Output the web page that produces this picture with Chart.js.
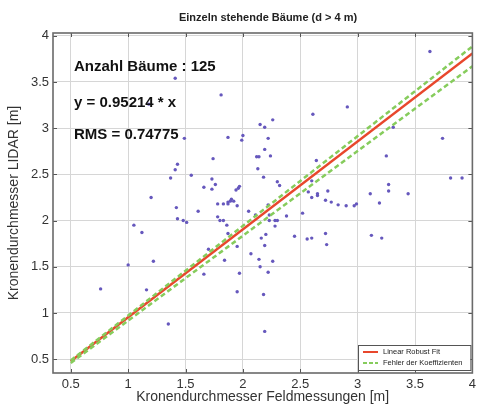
<!DOCTYPE html>
<html>
<head>
<meta charset="utf-8">
<script src="https://cdn.jsdelivr.net/npm/chart.js@4"></script>
<style>
  html, body { margin: 0; padding: 0; background: #fff; }
  #wrap { width: 480px; height: 406px; }
</style>
</head>
<body>
<div id="wrap"><canvas id="treeChart" width="480" height="406"></canvas></div>
<script>
// tick labels
const xTicks = [0.5, 1, 1.5, 2, 2.5, 3, 3.5, 4];
const yTicks = [0.5, 1, 1.5, 2, 2.5, 3, 3.5, 4];

const fieldDiam = [
  1.41, 1.81, 2.15, 2.26, 2.19, 1.87, 2.00, 1.99, 2.22, 1.49,
  2.19, 2.12, 2.14, 2.24, 1.74, 2.13, 1.43, 1.41, 2.18, 1.55,
  1.37, 1.73, 1.76, 1.66, 1.73, 1.96, 1.97, 1.94, 2.30, 2.32,
  1.20, 1.42, 1.90, 1.89, 1.92, 1.87, 1.78, 1.83, 1.87, 1.95,
  1.61, 2.05, 2.11, 2.23, 1.43, 1.48, 1.51, 1.78, 1.80, 1.83,
  1.86, 2.28, 2.28, 1.87, 2.16, 2.20, 2.45, 2.56, 2.60, 2.72,
  2.73, 1.95, 1.70, 2.19, 2.07, 1.84, 2.14, 2.26, 1.22, 2.15,
  1.66, 1.97, 2.22, 1.95, 2.18, 2.64, 2.57, 2.60, 2.65, 2.65,
  2.74, 2.72, 2.77, 2.83, 2.90, 2.52, 3.63, 2.91, 2.61, 3.31,
  3.74, 3.25, 2.60, 3.81, 3.91, 2.97, 2.99, 3.11, 3.27, 3.27,
  3.44, 3.19, 1.05, 1.12, 1.00, 0.76, 1.16, 1.35, 2.19, 2.38,
  3.12, 3.21, 1.18, 2.22, 2.23, 2.30
];
const lidarDiam = [
  3.54, 3.36, 3.04, 3.09, 3.01, 2.90, 2.92, 2.87, 2.89, 2.89,
  2.77, 2.69, 2.69, 2.70, 2.67, 2.56, 2.61, 2.55, 2.47, 2.49,
  2.46, 2.45, 2.39, 2.36, 2.34, 2.35, 2.37, 2.33, 2.42, 2.38,
  2.25, 2.14, 2.23, 2.21, 2.21, 2.20, 2.18, 2.18, 2.18, 2.16,
  2.10, 2.10, 2.06, 2.06, 2.02, 2.00, 1.98, 2.04, 2.00, 2.00,
  1.95, 2.00, 1.94, 1.86, 1.81, 1.85, 1.83, 1.80, 1.81, 1.86,
  1.74, 1.72, 1.69, 1.73, 1.64, 1.57, 1.58, 1.56, 1.56, 1.50,
  1.42, 1.43, 1.44, 1.23, 1.20, 2.65, 2.31, 2.25, 2.27, 2.29,
  2.32, 2.22, 2.20, 2.17, 2.16, 2.08, 3.83, 3.23, 3.15, 3.01,
  2.89, 2.70, 2.43, 2.46, 2.46, 2.16, 2.18, 2.29, 2.39, 2.32,
  2.29, 2.19, 1.95, 1.87, 1.52, 1.26, 1.25, 0.88, 0.80, 2.05,
  1.84, 1.81, 3.26, 2.17, 2.00, 2.00
];

// robust fit line and coefficient error bounds (end points)
const fitX = [0.5, 4];
const fitY = [0.476, 3.809];
const upperY = [0.486, 3.885];
const lowerY = [0.459, 3.670];

const infoLines = ["Anzahl Bäume : 125", "y = 0.95214 * x", "RMS = 0.74775"];
const legendLabels = ["Linear Robust Fit", "Fehler der Koeffizienten"];

const FONT = "'Liberation Sans', Arial, Helvetica, sans-serif";
const RED = "#e8472c";
const GREEN = "#86cc5c";

function toPoints(xs, ys) {
  return xs.map((x, i) => ({ x: x, y: ys[i] }));
}

// frame, inner tick marks, title, text block and legend box (MATLAB look)
const decorPlugin = {
  id: "decor",
  afterDraw(chart) {
    const ctx = chart.ctx;
    const a = chart.chartArea;
    const xs = chart.scales.x, ys = chart.scales.y;
    ctx.save();

    // inner ticks
    ctx.strokeStyle = "#555";
    ctx.lineWidth = 1;
    xTicks.forEach(v => {
      const px = Math.round(xs.getPixelForValue(v)) + 0.5;
      ctx.beginPath();
      ctx.moveTo(px, a.bottom); ctx.lineTo(px, a.bottom - 4);
      ctx.moveTo(px, a.top); ctx.lineTo(px, a.top + 4);
      ctx.stroke();
    });
    yTicks.forEach(v => {
      const py = Math.round(ys.getPixelForValue(v)) + 0.5;
      ctx.beginPath();
      ctx.moveTo(a.left, py); ctx.lineTo(a.left + 4, py);
      ctx.moveTo(a.right, py); ctx.lineTo(a.right - 4, py);
      ctx.stroke();
    });

    // box
    ctx.strokeStyle = "#6a6a6a";
    ctx.lineWidth = 1.6;
    ctx.strokeRect(a.left, a.top, a.right - a.left, a.bottom - a.top);

    // title
    ctx.fillStyle = "#222";
    ctx.font = "bold 11px " + FONT;
    ctx.textAlign = "center";
    ctx.textBaseline = "middle";
    ctx.fillText("Einzeln stehende Bäume (d > 4 m)", 268, 18);

    // info text
    ctx.font = "bold 15px " + FONT;
    ctx.textAlign = "left";
    ctx.fillStyle = "#111";
    const textY = [67, 103, 135];
    infoLines.forEach((t, i) => ctx.fillText(t, 74, textY[i]));

    // legend
    const lx = 358, ly = 345, lw = a.right - 2 - lx, lh = 25;
    ctx.fillStyle = "#fff";
    ctx.fillRect(lx, ly, lw, lh);
    ctx.strokeStyle = "#555";
    ctx.lineWidth = 1;
    ctx.strokeRect(lx + 0.5, ly + 0.5, lw, lh);
    ctx.font = "7.5px " + FONT;
    ctx.fillStyle = "#222";
    const rows = [ly + 7, ly + 18];
    ctx.lineWidth = 2;
    ctx.strokeStyle = RED;
    ctx.beginPath(); ctx.moveTo(363, rows[0]); ctx.lineTo(378, rows[0]); ctx.stroke();
    ctx.strokeStyle = GREEN;
    ctx.setLineDash([4, 2]);
    ctx.beginPath(); ctx.moveTo(363, rows[1]); ctx.lineTo(378, rows[1]); ctx.stroke();
    ctx.setLineDash([]);
    legendLabels.forEach((t, i) => ctx.fillText(t, 383, rows[i]));

    ctx.restore();
  }
};

function renderTreeChart() {
  const ctx = document.getElementById("treeChart").getContext("2d");

  new Chart(ctx, {
    type: "scatter",
    data: {
      datasets: [
        {
          label: "Fehler oben",
          data: toPoints(fitX, upperY),
          showLine: true,
          borderColor: GREEN,
          borderWidth: 2.5,
          borderDash: [5, 3],
          pointRadius: 0
        },
        {
          label: "Fehler unten",
          data: toPoints(fitX, lowerY),
          showLine: true,
          borderColor: GREEN,
          borderWidth: 2.5,
          borderDash: [5, 3],
          pointRadius: 0
        },
        {
          label: "Linear Robust Fit",
          data: toPoints(fitX, fitY),
          showLine: true,
          borderColor: RED,
          borderWidth: 2.5,
          pointRadius: 0
        },
        {
          label: "Bäume",
          data: toPoints(fieldDiam, lidarDiam),
          pointRadius: 1.7,
          pointBorderWidth: 0,
          backgroundColor: "#6658bd"
        }
      ]
    },
    options: {
      responsive: false,
      animation: false,
      events: [],
      layout: { padding: { top: 33, right: 3, bottom: 0, left: 0 } },
      plugins: {
        legend: { display: false },
        tooltip: { enabled: false }
      },
      scales: {
        x: {
          type: "linear",
          min: 0.345,
          max: 4,
          afterBuildTicks: s => { s.ticks = xTicks.map(v => ({ value: v })); },
          afterFit: s => { s.height = 33; },
          grid: { color: "#d6d6d6", lineWidth: 1, drawTicks: false },
          border: { display: false },
          ticks: {
            padding: 4,
            color: "#333",
            font: { family: FONT, size: 13 },
            callback: v => String(v)
          },
          title: {
            display: true,
            text: "Kronendurchmesser Feldmessungen [m]",
            color: "#333",
            font: { family: FONT, size: 14 },
            padding: { top: 0, bottom: 0 }
          }
        },
        y: {
          type: "linear",
          min: 0.35,
          max: 4.03,
          afterBuildTicks: s => { s.ticks = yTicks.map(v => ({ value: v })); },
          afterFit: s => { s.width = 53; },
          grid: { color: "#d6d6d6", lineWidth: 1, drawTicks: false },
          border: { display: false },
          ticks: {
            padding: 4,
            color: "#333",
            font: { family: FONT, size: 13 },
            callback: v => String(v)
          },
          title: {
            display: true,
            text: "Kronendurchmesser LIDAR [m]",
            color: "#333",
            font: { family: FONT, size: 14 },
            padding: { top: 6, bottom: 0 }
          }
        }
      }
    },
    plugins: [decorPlugin]
  });
}

document.addEventListener("DOMContentLoaded", renderTreeChart);
</script>
</body>
</html>
